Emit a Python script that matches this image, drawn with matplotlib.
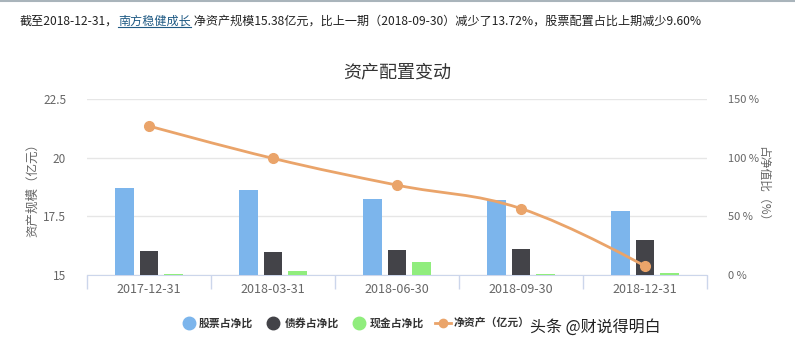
import numpy as np
import matplotlib
matplotlib.use("Agg")
import matplotlib.pyplot as plt
from matplotlib.path import Path
from matplotlib.patches import PathPatch
from matplotlib.lines import Line2D

plt.rcParams['font.family'] = ['Noto Sans CJK SC', 'DejaVu Sans']

# data
dates = ['2017-12-31', '2018-03-31', '2018-06-30', '2018-09-30', '2018-12-31']
stock_pct = [74.1, 72.4, 64.7, 63.9, 54.4]
bond_pct = [20.4, 19.6, 21.3, 22.1, 29.8]
cash_pct = [1.1, 3.7, 11.1, 0.9, 1.7]
net_assets = [21.35, 19.97, 18.83, 17.83, 15.38]

left_ticks = [15, 17.5, 20, 22.5]
left_labels = ['15', '17.5', '20', '22.5']
right_ticks = [0, 50, 100, 150]
right_labels = ['0 %', '50 %', '100 %', '150 %']

c_stock = '#7cb5ec'
c_bond = '#434348'
c_cash = '#90ed7d'
c_line = '#eaa46a'
c_text = '#666666'


# smooth path like a highcharts spline (control points only, no new data)
def spline_path(xs, ys, smoothing=1.5):
    n = len(xs)
    conts = []
    for i in range(n):
        if i == 0 or i == n - 1:
            conts.append(((xs[i], ys[i]), (xs[i], ys[i])))
            continue
        lx, ly = xs[i - 1], ys[i - 1]
        px, py = xs[i], ys[i]
        nx, ny = xs[i + 1], ys[i + 1]
        lcx = (smoothing * px + lx) / (smoothing + 1)
        lcy = (smoothing * py + ly) / (smoothing + 1)
        rcx = (smoothing * px + nx) / (smoothing + 1)
        rcy = (smoothing * py + ny) / (smoothing + 1)
        corr = ((rcy - lcy) * (rcx - px)) / (rcx - lcx) + py - rcy
        lcy += corr
        rcy += corr
        if lcy > ly and lcy > py:
            lcy = max(ly, py)
            rcy = 2 * py - lcy
        elif lcy < ly and lcy < py:
            lcy = min(ly, py)
            rcy = 2 * py - lcy
        if rcy > ny and rcy > py:
            rcy = max(ny, py)
            lcy = 2 * py - rcy
        elif rcy < ny and rcy < py:
            rcy = min(ny, py)
            lcy = 2 * py - rcy
        conts.append(((lcx, lcy), (rcx, rcy)))
    verts = [(xs[0], ys[0])]
    codes = [Path.MOVETO]
    for i in range(1, n):
        verts += [conts[i - 1][1], conts[i][0], (xs[i], ys[i])]
        codes += [Path.CURVE4] * 3
    return Path(verts, codes)


fig = plt.figure(figsize=(7.95, 3.6), dpi=100)
fig.patch.set_facecolor('white')

# top border line
fig.add_artist(Line2D([0, 1], [0.997, 0.997], transform=fig.transFigure,
                      color='#a9b4bb', lw=1.5))

# header sentence
hy = 1 - 21 / 360
t1 = fig.text(20 / 795, hy, '截至2018-12-31，', fontsize=8.7, color='#222222', va='center')
t2 = fig.text(0, 0, '南方稳健成长', fontsize=8.7, color='#1f5a84', va='center')
t3 = fig.text(0, 0, ' 净资产规模15.38亿元，比上一期（2018-09-30）减少了13.72%，股票配置占比上期减少9.60%',
              fontsize=8.7, color='#222222', va='center')
fig.canvas.draw()
r = fig.canvas.get_renderer()
b1 = t1.get_window_extent(r)
t2.set_position((b1.x1 / 795, hy))
fig.canvas.draw()
b2 = t2.get_window_extent(r)
t3.set_position((b2.x1 / 795, hy))
fig.add_artist(Line2D([b2.x0 / 795, b2.x1 / 795], [(b2.y0 + 1) / 360] * 2,
                      transform=fig.transFigure, color='#1f5a84', lw=0.8))

ax = fig.add_axes([87 / 795, 85 / 360, 620 / 795, 176 / 360])
ax2 = ax.twinx()
ax2.set_zorder(ax.get_zorder() + 1)
ax2.patch.set_visible(False)

x = np.arange(len(dates))
w = 0.153
off = 0.2
ax.bar(x - off, stock_pct, w, color=c_stock, zorder=3)
ax.bar(x, bond_pct, w, color=c_bond, zorder=3)
ax.bar(x + off, cash_pct, w, color=c_cash, zorder=3)

ax.set_xlim(-0.5, len(dates) - 0.5)
ax.set_ylim(0, 150)
ax.set_yticks(right_ticks)
ax.set_yticklabels(right_labels)
ax.yaxis.tick_right()
ax.yaxis.set_label_position('right')
ax.grid(axis='y', color='#e6e6e6', lw=1, zorder=0)
ax.set_xticks(x)
ax.set_xticklabels(dates)
ax.set_xticks(np.arange(len(dates) + 1) - 0.5, minor=True)
ax.tick_params(axis='x', which='major', length=0, pad=6, labelsize=9, labelcolor=c_text)
ax.tick_params(axis='x', which='minor', length=10, color='#ccd6eb', width=1)
ax.tick_params(axis='y', length=0, pad=15, labelsize=8, labelcolor=c_text)
for s in ['top', 'left', 'right']:
    ax.spines[s].set_visible(False)
ax.spines['bottom'].set_color('#ccd6eb')
ax.set_ylabel('占净值比（%）', rotation=270, fontsize=8.5, color=c_text)
ax.yaxis.set_label_coords(1.1, 0.5)

# net assets line on the left axis
ax2.set_ylim(15, 22.5)
ax2.set_yticks(left_ticks)
ax2.set_yticklabels(left_labels)
ax2.yaxis.tick_left()
ax2.yaxis.set_label_position('left')
ax2.tick_params(axis='y', length=0, pad=15, labelsize=8.5, labelcolor=c_text)
for s in ax2.spines.values():
    s.set_visible(False)
ax2.add_patch(PathPatch(spline_path(list(x), net_assets), facecolor='none',
                        edgecolor=c_line, lw=2, zorder=4))
ax2.plot(x, net_assets, 'o', color=c_line, ms=7, zorder=5)
ax2.set_ylabel('资产规模（亿元）', fontsize=9, color=c_text)
ax2.yaxis.set_label_coords(-0.077, 0.5)

fig.text(0.5, 1 - 72 / 360, '资产配置变动', ha='center', va='center',
         fontsize=13, color='#333333')

# legend
ly = 1 - 323 / 360
fig.add_artist(Line2D([189 / 795], [ly], marker='o', ms=9, color=c_stock, transform=fig.transFigure))
fig.add_artist(Line2D([273 / 795], [ly], marker='o', ms=9, color=c_bond, transform=fig.transFigure))
fig.add_artist(Line2D([359 / 795], [ly], marker='o', ms=9, color=c_cash, transform=fig.transFigure))
fig.add_artist(Line2D([435 / 795, 451 / 795], [ly, ly], color=c_line, lw=2, transform=fig.transFigure))
fig.add_artist(Line2D([443 / 795], [ly], marker='o', ms=6, color=c_line, transform=fig.transFigure))
for lx, lab in [(199, '股票占净比'), (285, '债券占净比'), (370, '现金占净比'), (454, '净资产（亿元）')]:
    fig.text(lx / 795, ly, lab, fontsize=7.8, fontweight='bold', color='#333333', va='center')

fig.text(530 / 795, 1 - 327 / 360, '头条 @财说得明白', fontsize=11.5, color='#222222', va='center')

fig.savefig('out.png', dpi=100, facecolor='white')
